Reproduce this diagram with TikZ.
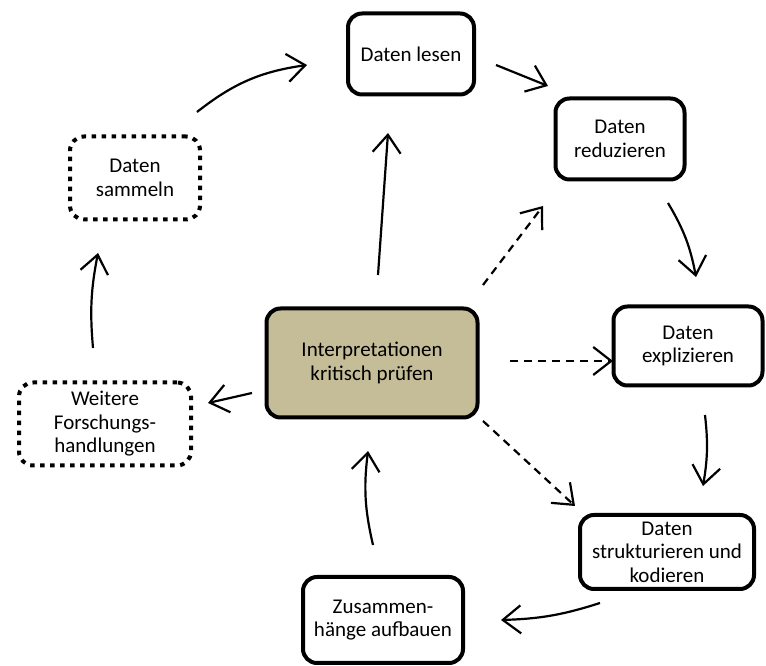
\documentclass[tikz,border=0pt]{standalone}
\usepackage{fontspec}
\setmainfont{Carlito}
\usetikzlibrary{arrows.meta}
\definecolor{khaki}{RGB}{196,189,151}
\tikzset{
	box/.style={draw, line width=4pt, rounded corners=14pt, align=center, inner sep=0pt, font=\fontsize{21}{23.5}\selectfont},
	dotbox/.style={box, dash pattern=on 4.5pt off 5.5pt},
	corebox/.style={box, fill=khaki},
	arr/.style={-{Straight Barb[length=18pt,width=28pt]}, line width=2.2pt},
	dasharr/.style={arr, dash pattern=on 8pt off 6pt}
}
\begin{document}
\begin{tikzpicture}[x=1pt, y=1pt]
			\useasboundingbox (0,0) rectangle (766,666);
			\node[box, minimum width=126pt, minimum height=81pt] (lesen) at (411,612) {Daten lesen};
			\node[box, minimum width=129pt, minimum height=81pt] (reduz) at (620,527) {Daten\\reduzieren};
			\node[box, minimum width=149pt, minimum height=79pt] (expl) at (688,320) {Daten\\explizieren};
			\node[box, minimum width=174pt, minimum height=74pt] (strukt) at (667,114) {Daten\\strukturieren und\\kodieren};
			\node[box, minimum width=160pt, minimum height=86pt] (zus) at (383,46) {Zusammen-\\hänge aufbauen};
			\node[dotbox, minimum width=172pt, minimum height=83pt] (weitere) at (105,242) {Weitere\\Forschungs-\\handlungen};
			\node[dotbox, minimum width=130pt, minimum height=83pt] (sammeln) at (135,488) {Daten\\sammeln};
			\node[corebox, minimum width=211pt, minimum height=109pt] (kern) at (372,303) {Interpretationen\\kritisch prüfen};
			\draw[arr] ([xshift=-5pt,yshift=22.5pt]sammeln.north east) to[bend left=15] ([xshift=-39pt,yshift=-11pt]lesen.west);
			\draw[arr] ([xshift=20pt,yshift=-11pt]lesen.east) -- ([xshift=-5.5pt,yshift=10.5pt]reduz.north west);
			\draw[arr] ([xshift=-18.5pt,yshift=-21.5pt]reduz.south east) to[bend left=10] ([xshift=8pt,yshift=27.5pt]expl.north);
			\draw[arr] ([xshift=17pt,yshift=-27.5pt]expl.south) to[bend left=8] ([xshift=36pt,yshift=27pt]strukt.north);
			\draw[arr] ([xshift=-67pt,yshift=-12pt]strukt.south) to[bend left=8] ([xshift=36pt]zus.east);
			\draw[arr] ([xshift=-10pt,yshift=30pt]zus.north) to[bend left=10] ([xshift=-4pt,yshift=-31.5pt]kern.south);
			\draw[arr] ([xshift=6pt,yshift=31.5pt]kern.north) -- ([xshift=-23pt,yshift=-36.5pt]lesen.south);
			\draw[arr] ([xshift=-12.5pt,yshift=-30pt]kern.west) -- ([xshift=15pt,yshift=21pt]weitere.east);
			\draw[arr] ([xshift=-12pt,yshift=32.5pt]weitere.north) to[bend left=8] ([xshift=-37pt,yshift=-31.5pt]sammeln.south);
			\draw[dasharr] ([xshift=3.5pt,yshift=21.5pt]kern.north east) -- ([xshift=-10.5pt,yshift=-24.5pt]reduz.south west);
			\draw[dasharr] ([xshift=30.5pt,yshift=2pt]kern.east) -- ([xshift=1.5pt,yshift=-15pt]expl.west);
			\draw[dasharr] ([xshift=3.5pt,yshift=-1.5pt]kern.south east) -- ([xshift=-3pt,yshift=7pt]strukt.north west);
		\end{tikzpicture}
\end{document}
